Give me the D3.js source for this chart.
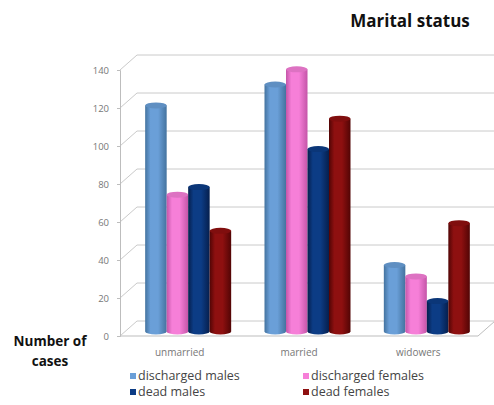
<!DOCTYPE html>
<html>
<head>
<meta charset="utf-8">
<script src="https://cdn.jsdelivr.net/npm/d3@7"></script>
<style>
  body { margin: 0; background: #fff; }
  text { font-family: "Open Sans", "Liberation Sans", Arial, sans-serif; }
</style>
</head>
<body>
<div id="chart"></div>
<script>
// data
var categories = ["unmarried", "married", "widowers"];
var seriesNames = ["discharged males", "discharged females", "dead males", "dead females"];
var dischargedMales = [119, 130, 35];
var dischargedFemales = [72, 138, 29];
var deadMales = [76, 96, 16];
var deadFemales = [53, 112, 57];
var yTicks = [0, 20, 40, 60, 80, 100, 120, 140];

var seriesValues = [dischargedMales, dischargedFemales, deadMales, deadFemales];
var colors = ["#6a9fd8", "#f67fd8", "#0c3c85", "#8e1010"];
var darks = ["#44739f", "#c455a8", "#061f4d", "#520505"];

var W = 494, H = 405;
var depthX = 17, depthY = -15; // 3d offset of back wall

var svg = d3.select("#chart").append("svg")
    .attr("width", W)
    .attr("height", H);

var y = d3.scaleLinear().domain([0, 140]).range([336, 70]);
var x = d3.scaleBand().domain(categories).range([120, 478]);
var xInner = d3.scaleBand().domain(seriesNames).range([0, 86]);

// gradients for cylinders
var defs = svg.append("defs");
colors.forEach(function(c, i) {
    var g = defs.append("linearGradient").attr("id", "g" + i)
        .attr("x1", "0%").attr("x2", "100%").attr("y1", "0%").attr("y2", "0%");
    g.append("stop").attr("offset", "0%").attr("stop-color", darks[i]);
    g.append("stop").attr("offset", "25%").attr("stop-color", c);
    g.append("stop").attr("offset", "60%").attr("stop-color", c);
    g.append("stop").attr("offset", "100%").attr("stop-color", darks[i]);
});

// gridlines: front diagonal + back wall
yTicks.forEach(function(t) {
    svg.append("polyline")
        .attr("points", [[120, y(t)], [120 + depthX, y(t) + depthY], [W, y(t) + depthY]].join(" "))
        .attr("fill", "none")
        .attr("stroke", "#cacaca")
        .attr("stroke-width", 1);
});

// floor front edge
svg.append("polyline")
    .attr("points", [[120, y(0)], [478, y(0)], [478 + depthX, y(0) + depthY]].join(" "))
    .attr("fill", "none")
    .attr("stroke", "#bdbdbd");

// y axis
var axis = svg.append("g")
    .attr("transform", "translate(120,0)")
    .call(d3.axisLeft(y).tickValues(yTicks).tickSize(3).tickPadding(8));
axis.select(".domain").attr("stroke", "#bdbdbd");
axis.selectAll(".tick line").attr("stroke", "#bdbdbd");
axis.selectAll(".tick text")
    .attr("fill", "#777")
    .style("font-size", "9.5px");

// bars as cylinders
var midX = depthX / 2, midY = depthY / 2 + 3;
var bw = xInner.bandwidth();
var rx = bw / 2, ry = 3;
categories.forEach(function(cat, ci) {
    seriesNames.forEach(function(s, si) {
        var v = seriesValues[si][ci];
        var left = x(cat) + x.bandwidth() / 2 - 43 + midX + xInner(s);
        var top = y(v) + midY;
        var bottom = y(0) + midY;
        var g = svg.append("g");
        g.append("rect")
            .attr("x", left)
            .attr("y", top)
            .attr("width", bw)
            .attr("height", bottom - top)
            .attr("fill", "url(#g" + si + ")");
        g.append("ellipse")
            .attr("cx", left + rx)
            .attr("cy", bottom)
            .attr("rx", rx)
            .attr("ry", ry)
            .attr("fill", "url(#g" + si + ")");
        g.append("ellipse")
            .attr("cx", left + rx)
            .attr("cy", top)
            .attr("rx", rx)
            .attr("ry", ry)
            .attr("fill", d3.color(colors[si]).darker(0.3));
    });
});

// category labels
svg.selectAll(".cat").data(categories).enter().append("text")
    .attr("x", function(d) { return x(d) + x.bandwidth() / 2; })
    .attr("y", 356)
    .attr("text-anchor", "middle")
    .attr("fill", "#777")
    .style("font-size", "10px")
    .text(function(d) { return d; });

// title
svg.append("text")
    .attr("x", 410).attr("y", 27)
    .attr("text-anchor", "middle")
    .attr("fill", "#111")
    .style("font-size", "17px")
    .style("font-weight", "bold")
    .text("Marital status");

// y axis title
svg.append("text")
    .attr("x", 50).attr("y", 346)
    .attr("text-anchor", "middle")
    .attr("fill", "#111")
    .style("font-size", "13.5px")
    .style("font-weight", "bold")
    .text("Number of");
svg.append("text")
    .attr("x", 50).attr("y", 366)
    .attr("text-anchor", "middle")
    .attr("fill", "#111")
    .style("font-size", "13.5px")
    .style("font-weight", "bold")
    .text("cases");

// legend
var legX = [130, 303], legY = [377, 393];
seriesNames.forEach(function(s, i) {
    var lx = legX[i % 2], ly = legY[Math.floor(i / 2)];
    svg.append("rect")
        .attr("x", lx).attr("y", ly - 4)
        .attr("width", 6).attr("height", 6)
        .attr("fill", colors[i]);
    svg.append("text")
        .attr("x", lx + 8).attr("y", ly + 3)
        .attr("fill", "#444")
        .style("font-size", "12.5px")
        .text(s);
});
</script>
</body>
</html>
